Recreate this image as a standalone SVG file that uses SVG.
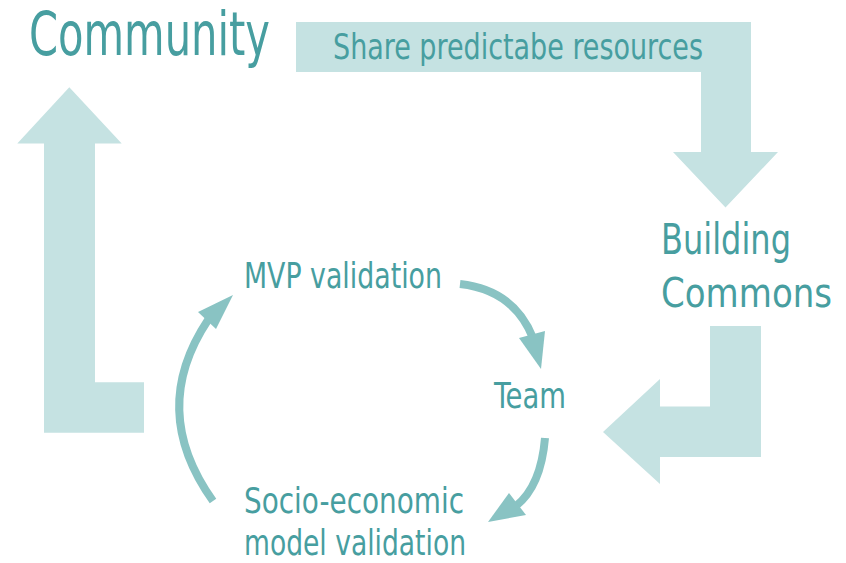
<svg xmlns="http://www.w3.org/2000/svg" width="846" height="563" viewBox="0 0 846 563">
  <style>
    .band { fill: #C5E2E2; }
    .lbl { fill: #479EA0; font-family: "DejaVu Sans Condensed", "Roboto Condensed", "Liberation Sans Narrow", "Liberation Sans", sans-serif; }
    .cyc { fill: none; stroke: #89C3C3; stroke-width: 8; }
    .head { fill: #89C3C3; }
  </style>
  <rect width="846" height="563" fill="#ffffff"/>
  <g id="connectors">
    <path id="arrow-share" class="band" d="M296,22 H751 V152 H778 L725.5,207.5 L673,152 H701 V72 H296 Z"/>
    <path id="arrow-building" class="band" d="M710,326 H761 V457 H660 V484 L603,432 L660,379 V406.5 H710 Z"/>
    <path id="arrow-community" class="band" d="M44,432.7 V143.5 H17.3 L69.3,87.3 L121.7,143.5 H95 V382.3 H144 V432.7 Z"/>
    <path class="cyc" d="M460,284 Q514,290 533,338"/>
    <polygon class="head" points="519,338 545,331 541,369"/>
    <path class="cyc" d="M545,438 Q541,486 516,506"/>
    <polygon class="head" points="509,493 526,515 488,522"/>
    <path class="cyc" d="M213,501 Q148,410 208,320"/>
    <polygon class="head" points="198,312 216,329 233,295"/>
  </g>
  <g id="community">
    <text class="lbl" x="29" y="55" font-size="60" textLength="241" lengthAdjust="spacingAndGlyphs">Community</text>
  </g>
  <g id="share">
    <text class="lbl" x="333" y="59.3" font-size="36" textLength="370" lengthAdjust="spacingAndGlyphs">Share predictabe resources</text>
  </g>
  <g id="building-commons">
    <text class="lbl" x="661" y="254" font-size="42" textLength="130" lengthAdjust="spacingAndGlyphs">Building</text>
    <text class="lbl" x="661" y="306.5" font-size="40" textLength="171" lengthAdjust="spacingAndGlyphs">Commons</text>
  </g>
  <g id="mvp">
    <text class="lbl" x="244" y="288" font-size="35" textLength="198" lengthAdjust="spacingAndGlyphs">MVP validation</text>
  </g>
  <g id="team">
    <text class="lbl" x="494" y="408" font-size="36" textLength="72" lengthAdjust="spacingAndGlyphs">Team</text>
  </g>
  <g id="socio">
    <text class="lbl" x="244" y="513" font-size="36" textLength="220" lengthAdjust="spacingAndGlyphs">Socio-economic</text>
    <text class="lbl" x="244" y="555" font-size="36" textLength="222" lengthAdjust="spacingAndGlyphs">model validation</text>
  </g>
</svg>
